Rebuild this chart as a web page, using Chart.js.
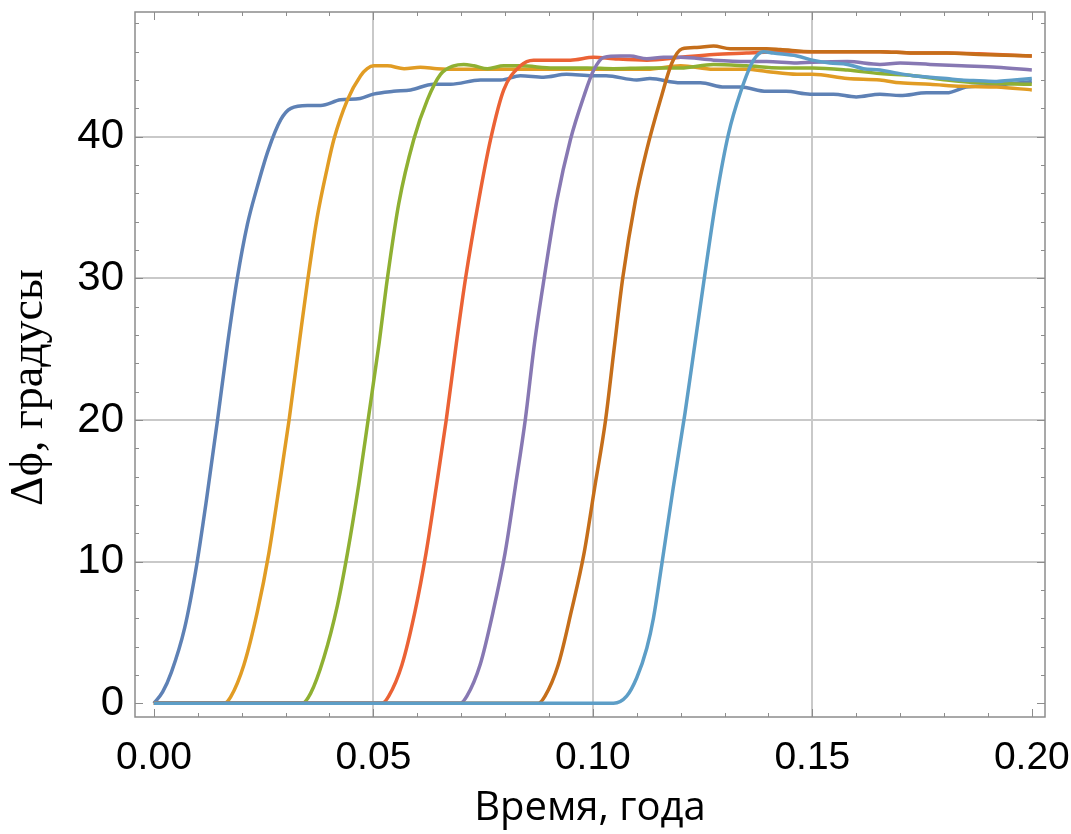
<!DOCTYPE html>
<html lang="ru">
<head>
<meta charset="utf-8">
<title>Δϕ от времени</title>
<script src="https://cdn.jsdelivr.net/npm/chart.js@4.4.1/dist/chart.umd.min.js"></script>
<style>
  html, body { margin: 0; padding: 0; background: #fff; }
  #wrap { width: 1071px; height: 834px; }
</style>
</head>
<body>
<div id="wrap"><canvas id="phaseChart"></canvas></div>
<script>
// время (годы) и разность фаз (градусы), по одной паре массивов на кривую
const t1 = [0, 0.002, 0.004, 0.007, 0.0095, 0.012, 0.0145, 0.0168, 0.019, 0.0213, 0.0235, 0.026, 0.0289, 0.0312, 0.035, 0.038, 0.0425, 0.047, 0.050, 0.0546, 0.0585, 0.0637, 0.0676, 0.0744, 0.079, 0.0835, 0.0888, 0.094, 0.100, 0.103, 0.110, 0.113, 0.120, 0.1245, 0.130, 0.1336, 0.1396, 0.144, 0.1495, 0.1548, 0.160, 0.1654, 0.170, 0.176, 0.1806, 0.185, 0.1897, 0.194, 0.200];
const phi1 = [0, 0.8, 2.2, 5.3, 9.3, 14.4, 20, 25.4, 30, 33.8, 36.4, 39.0, 41.2, 42.0, 42.2, 42.2, 42.6, 42.7, 43.0, 43.2, 43.3, 43.7, 43.7, 44.0, 44.0, 44.3, 44.2, 44.4, 44.3, 44.3, 44.0, 44.1, 43.8, 43.8, 43.5, 43.5, 43.2, 43.2, 43.0, 43.0, 42.8, 43.0, 42.9, 43.1, 43.1, 43.5, 43.6, 43.7, 43.9];

const t2 = [0, 0.016, 0.0175, 0.0205, 0.0236, 0.0262, 0.0285, 0.0308, 0.0331, 0.0351, 0.0372, 0.0395, 0.041, 0.0441, 0.0471, 0.0486, 0.0501, 0.0532, 0.057, 0.0607, 0.0645, 0.0683, 0.076, 0.0835, 0.091, 0.097, 0.1047, 0.1123, 0.12, 0.1275, 0.135, 0.1396, 0.1465, 0.150, 0.158, 0.1654, 0.170, 0.1768, 0.184, 0.192, 0.200];
const phi2 = [0, 0, 0.45, 2.7, 6.5, 10.6, 15.2, 20, 25.4, 30, 34.3, 37.8, 39.8, 42.6, 44.3, 44.8, 45.0, 45.0, 44.8, 44.9, 44.8, 44.75, 44.75, 44.75, 44.75, 44.75, 44.75, 44.75, 45.0, 44.75, 44.75, 44.6, 44.4, 44.4, 44.1, 44.0, 43.8, 43.7, 43.55, 43.5, 43.3];

const t3 = [0, 0.0338, 0.0357, 0.0387, 0.0418, 0.0441, 0.0467, 0.0488, 0.0513, 0.0532, 0.0558, 0.0592, 0.0623, 0.0653, 0.0683, 0.0706, 0.0729, 0.076, 0.0797, 0.0835, 0.091, 0.0987, 0.1047, 0.1123, 0.12, 0.1275, 0.135, 0.1427, 0.150, 0.158, 0.1654, 0.173, 0.1806, 0.188, 0.200];
const phi3 = [0, 0, 0.7, 3.2, 6.9, 10.6, 15.5, 20, 25.4, 30, 35.3, 39.8, 42.6, 44.4, 45.0, 45.1, 45.0, 44.8, 45.0, 45.0, 44.85, 44.85, 44.8, 44.85, 44.85, 45.1, 45.0, 44.85, 44.85, 44.7, 44.45, 44.3, 44.0, 43.8, 43.7];

const t4 = [0, 0.052, 0.0535, 0.0565, 0.0595, 0.062, 0.0643, 0.0666, 0.0689, 0.071, 0.074, 0.0767, 0.0797, 0.0835, 0.0865, 0.091, 0.0949, 0.1002, 0.1047, 0.1123, 0.12, 0.1275, 0.135, 0.1427, 0.150, 0.158, 0.1654, 0.173, 0.1806, 0.188, 0.200];
const phi4 = [0, 0, 0.5, 2.7, 6.5, 10.6, 15.2, 20, 25.4, 30, 35.5, 39.8, 43.3, 45.0, 45.4, 45.4, 45.4, 45.6, 45.5, 45.4, 45.6, 45.8, 45.9, 46.0, 46.0, 46.0, 46.0, 45.9, 45.9, 45.85, 45.7];

const t5 = [0, 0.0698, 0.0713, 0.0743, 0.0773, 0.080, 0.0823, 0.0846, 0.0867, 0.0889, 0.0918, 0.0949, 0.0979, 0.1002, 0.1025, 0.1063, 0.1085, 0.1123, 0.1161, 0.12, 0.1275, 0.135, 0.1396, 0.1465, 0.150, 0.158, 0.1654, 0.170, 0.1768, 0.184, 0.192, 0.200];
const phi5 = [0, 0, 0.5, 2.7, 6.5, 10.6, 15.2, 20, 25.4, 30, 35.5, 39.8, 42.8, 44.7, 45.6, 45.7, 45.7, 45.5, 45.6, 45.6, 45.4, 45.3, 45.3, 45.2, 45.25, 45.3, 45.1, 45.2, 45.1, 45.0, 44.9, 44.7];

const t6 = [0, 0.0876, 0.0891, 0.0921, 0.0951, 0.098, 0.1004, 0.1029, 0.1048, 0.1068, 0.1097, 0.1123, 0.1154, 0.118, 0.1203, 0.1237, 0.1275, 0.1313, 0.135, 0.1396, 0.1427, 0.150, 0.158, 0.1654, 0.173, 0.1806, 0.188, 0.200];
const phi6 = [0, 0, 0.5, 2.7, 6.5, 10.6, 15.2, 20, 24.9, 30, 35.5, 39.1, 42.6, 45.2, 46.2, 46.3, 46.4, 46.2, 46.2, 46.2, 46.15, 46.0, 46.0, 46.0, 45.9, 45.9, 45.8, 45.7];

const t7 = [0, 0.1047, 0.1077, 0.110, 0.1123, 0.1138, 0.1157, 0.1183, 0.121, 0.1229, 0.1252, 0.1282, 0.1309, 0.1336, 0.1366, 0.1389, 0.1411, 0.1465, 0.150, 0.154, 0.158, 0.1616, 0.1654, 0.169, 0.173, 0.1768, 0.1806, 0.184, 0.188, 0.192, 0.196, 0.200];
const phi7 = [0, 0, 0.5, 1.8, 3.9, 6.0, 9.8, 15.2, 20.5, 24.6, 29.6, 35.8, 40.2, 43.1, 45.4, 46.0, 45.9, 45.7, 45.4, 45.2, 45.1, 44.8, 44.7, 44.5, 44.3, 44.2, 44.1, 44.0, 43.95, 43.9, 44.0, 44.1];

const seriesTimes = [t1, t2, t3, t4, t5, t6, t7];
const seriesPhases = [phi1, phi2, phi3, phi4, phi5, phi6, phi7];
const seriesColors = ['#5E81B5', '#E19C24', '#8FB032', '#EB6235', '#8778B3', '#C56E1A', '#5D9EC7'];

// подписи делений и мелкие засечки рамки
const xTickLabels = [0, 0.05, 0.10, 0.15, 0.20];
const yTickLabels = [0, 10, 20, 30, 40];
const xTickMarks = [0, 0.01, 0.02, 0.03, 0.04, 0.05, 0.06, 0.07, 0.08, 0.09, 0.10, 0.11, 0.12, 0.13, 0.14, 0.15, 0.16, 0.17, 0.18, 0.19, 0.20];
const yTickMarks = [0, 2, 4, 6, 8, 10, 12, 14, 16, 18, 20, 22, 24, 26, 28, 30, 32, 34, 36, 38, 40, 42, 44, 46, 48];

const gridColor = '#c9c9c9';
const frameColor = '#8c8c8c';
const tickFont = "'Liberation Sans', Arial, sans-serif";

// рамка со всех четырёх сторон и засечки внутрь, как в Mathematica
const frameTicks = {
    id: 'frameTicks',
    afterDraw(chart) {
        const { ctx, chartArea: a, scales: { x, y } } = chart;
        ctx.save();
        ctx.strokeStyle = frameColor;
        ctx.lineWidth = 1.5;
        ctx.strokeRect(a.left, a.top, a.right - a.left, a.bottom - a.top);
        ctx.beginPath();
        xTickMarks.forEach(v => {
            const px = Math.round(x.getPixelForValue(v)) + 0.5;
            const len = xTickLabels.includes(v) ? 8 : 4;
            ctx.moveTo(px, a.bottom);
            ctx.lineTo(px, a.bottom - len);
            ctx.moveTo(px, a.top);
            ctx.lineTo(px, a.top + len);
        });
        yTickMarks.forEach(v => {
            const py = Math.round(y.getPixelForValue(v)) + 0.5;
            const len = yTickLabels.includes(v) ? 8 : 4;
            ctx.moveTo(a.left, py);
            ctx.lineTo(a.left + len, py);
            ctx.moveTo(a.right, py);
            ctx.lineTo(a.right - len, py);
        });
        ctx.lineWidth = 1;
        ctx.stroke();
        ctx.restore();
    }
};

const datasets = seriesTimes.map((times, i) => ({
    label: 'кривая ' + (i + 1),
    data: times.map((t, k) => ({ x: t, y: seriesPhases[i][k] })),
    borderColor: seriesColors[i],
    backgroundColor: seriesColors[i],
    borderWidth: 3.5,
    pointRadius: 0,
    cubicInterpolationMode: 'monotone',
    order: seriesTimes.length - 1 - i   // последние кривые рисуются поверх
}));

new Chart(document.getElementById('phaseChart'), {
    type: 'line',
    data: { datasets },
    options: {
        responsive: true,
        maintainAspectRatio: false,
        animation: false,
        layout: { padding: { top: 12, right: 26, left: 0, bottom: 0 } },
        plugins: {
            legend: { display: false },
            tooltip: { enabled: false }
        },
        scales: {
            x: {
                type: 'linear',
                min: -0.0043,
                max: 0.203,
                afterBuildTicks: axis => { axis.ticks = xTickLabels.map(v => ({ value: v })); },
                afterFit: axis => {
                    axis.height = 117;
                    axis.paddingLeft = 0;
                    axis.paddingRight = 0;
                },
                ticks: {
                    callback: v => v.toFixed(2),
                    color: '#000',
                    padding: 18,
                    maxRotation: 0,
                    autoSkip: false,
                    font: { family: tickFont, size: 39 }
                },
                grid: {
                    drawTicks: false,
                    lineWidth: 2,
                    color: c => (c.tick && c.tick.value > 0.001 && c.tick.value < 0.199) ? gridColor : 'transparent'
                },
                border: { display: false },
                title: {
                    display: true,
                    text: 'Время, года',
                    color: '#000',
                    padding: { top: 0, bottom: 1 },
                    font: { family: "'Open Sans', 'Noto Sans', sans-serif", size: 40 }
                }
            },
            y: {
                min: -0.97,
                max: 48.8,
                afterBuildTicks: axis => { axis.ticks = yTickLabels.map(v => ({ value: v })); },
                afterFit: axis => {
                    axis.width = 135;
                    axis.paddingTop = 0;
                    axis.paddingBottom = 0;
                },
                ticks: {
                    callback: v => String(v),
                    color: '#000',
                    padding: 11,
                    autoSkip: false,
                    font: { family: tickFont, size: 42 }
                },
                grid: {
                    drawTicks: false,
                    lineWidth: 2,
                    color: c => (c.tick && c.tick.value > 0) ? gridColor : 'transparent'
                },
                border: { display: false },
                title: {
                    display: true,
                    // хвостовой широкий пробел сдвигает подпись ниже центра, как в оригинале
                    text: 'Δϕ, градусы\u2003',
                    color: '#000',
                    padding: { top: 2, bottom: 0 },
                    font: { family: "'Liberation Serif', 'Times New Roman', serif", size: 46 }
                }
            }
        }
    },
    plugins: [frameTicks]
});
</script>
</body>
</html>
